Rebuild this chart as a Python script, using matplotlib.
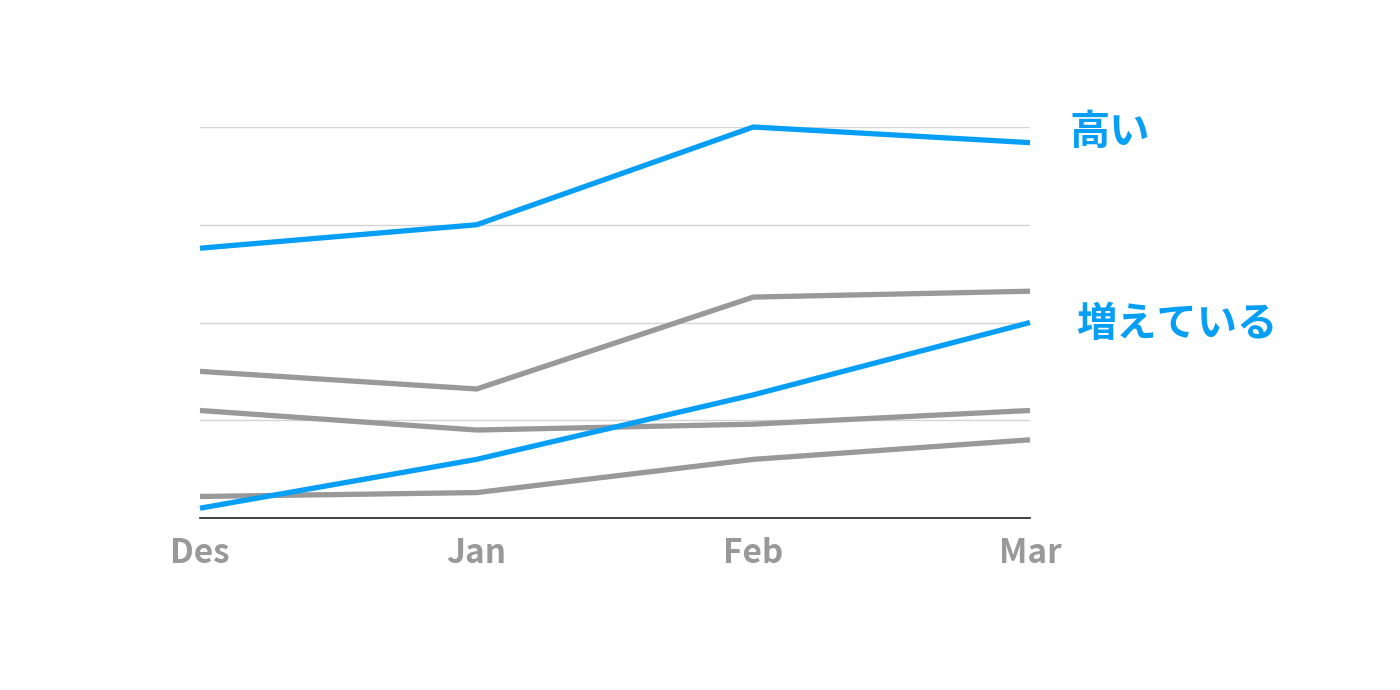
"""Line chart: two highlighted series against grey context lines."""

import matplotlib
matplotlib.use("Agg")
import matplotlib.pyplot as plt

plt.rcParams["font.family"] = ["Noto Sans CJK JP", "DejaVu Sans"]

months = ["Des", "Jan", "Feb", "Mar"]
high_values = [69, 75, 100, 96]
rising_values = [2.5, 15, 31.5, 50]
grey_a = [37.5, 33, 56.5, 58]
grey_b = [27.5, 22.5, 24, 27.5]
grey_c = [5.5, 6.5, 15, 20]
label_high = "高い"
label_rising = "増えている"

BLUE = "#069ff5"
GREY = "#999999"

fig = plt.figure(figsize=(14, 6.9), dpi=100)
ax = fig.add_axes([200 / 1400, 1 - 518 / 690, 830 / 1400, 391 / 690])

x = list(range(len(months)))
for series in (grey_a, grey_b, grey_c):
    ax.plot(x, series, color=GREY, linewidth=3.8, solid_capstyle="butt", clip_on=False, zorder=3)
for series in (high_values, rising_values):
    ax.plot(x, series, color=BLUE, linewidth=3.8, solid_capstyle="butt", clip_on=False, zorder=4)

ax.set_xlim(0, 3)
ax.set_ylim(0, 100)
ax.set_yticks([0, 25, 50, 75, 100])
ax.set_yticklabels([])
ax.yaxis.grid(True, color="#d4d4d4", linewidth=1)
ax.set_axisbelow(True)
ax.tick_params(axis="y", length=0)
ax.tick_params(axis="x", length=0, pad=14, labelsize=24, labelcolor=GREY)
ax.set_xticks(x)
ax.set_xticklabels(months, fontweight="bold")

for side in ("top", "right", "left"):
    ax.spines[side].set_visible(False)
ax.spines["bottom"].set_color("#222222")
ax.spines["bottom"].set_linewidth(1.2)

ax.annotate(label_high, xy=(3, 98.5), xytext=(40, 0), textcoords="offset pixels",
            color=BLUE, fontsize=29, fontweight="bold", va="center", ha="left")
ax.annotate(label_rising, xy=(3, 49.5), xytext=(46, 0), textcoords="offset pixels",
            color=BLUE, fontsize=29, fontweight="bold", va="center", ha="left")

fig.savefig("out.png", dpi=100)
